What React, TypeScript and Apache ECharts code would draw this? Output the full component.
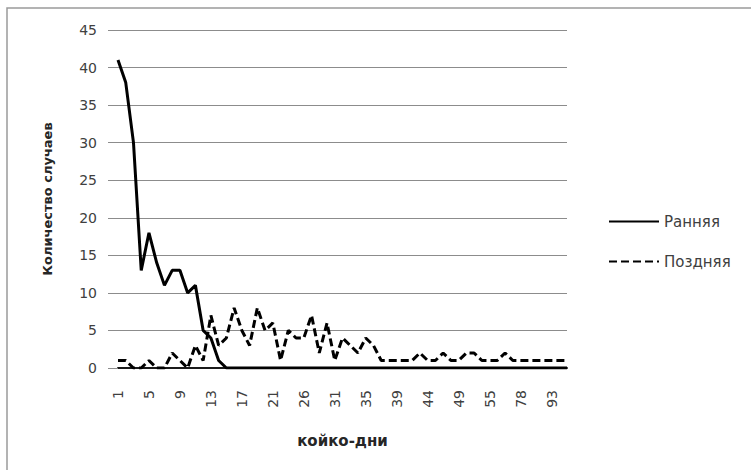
import React, { useEffect, useRef } from "react";
import * as echarts from "echarts";

const days = [
  "1", "2", "3", "4", "5", "6", "7", "8", "9", "10", "11", "12", "13", "14", "15", "16", "17", "18", "19", "20", "21",
  "22", "23", "24", "26", "27", "28", "29", "31", "32", "33", "34", "35", "36", "37", "38", "39", "40", "41", "42",
  "44", "45", "46", "47", "49", "50", "51", "53", "55", "57", "60", "65", "78", "80", "85", "90", "93", "95", "100",
];

const early = [
  41, 38, 30, 13, 18, 14, 11, 13, 13, 10, 11, 5, 4, 1, 0,
  0, 0, 0, 0, 0, 0, 0, 0, 0, 0, 0, 0, 0, 0, 0,
  0, 0, 0, 0, 0, 0, 0, 0, 0, 0, 0, 0, 0, 0, 0,
  0, 0, 0, 0, 0, 0, 0, 0, 0, 0, 0, 0, 0, 0,
];

const late = [
  1, 1, 0, 0, 1, 0, 0, 2, 1, 0, 3, 1, 7, 3, 4, 8, 5, 3, 8, 5, 6, 1, 5, 4, 4, 7, 2, 6, 1, 4,
  3, 2, 4, 3, 1, 1, 1, 1, 1, 2, 1, 1, 2, 1, 1, 2, 2, 1, 1, 1, 2, 1, 1, 1, 1, 1, 1, 1, 1,
];

const seriesNames = ["Ранняя", "Поздняя"];
const xTitle = "койко-дни";
const yTitle = "Количество случаев";

export default function App() {
  const ref = useRef<HTMLDivElement>(null);
  useEffect(() => {
    if (!ref.current) return;
    const chart = echarts.init(ref.current, undefined, { renderer: "svg" });
    const font = "DejaVu Sans";
    chart.setOption({
      animation: false,
      backgroundColor: "#ffffff",
      textStyle: { fontFamily: font },
      graphic: [
        {
          type: "rect",
          shape: { x: 7, y: 8, width: 820, height: 520 },
          style: { fill: "none", stroke: "#9a9a9a", lineWidth: 1.5 },
          silent: true,
        },
      ],
      grid: {
        left: 118,
        right: 184,
        top: 30,
        bottom: 102,
        containLabel: false,
        outerBoundsMode: "none",
      },
      legend: {
        orient: "vertical",
        left: 603,
        top: 209,
        itemWidth: 50,
        itemHeight: 14,
        itemGap: 25,
        itemStyle: { opacity: 0 },
        textStyle: { fontFamily: font, fontSize: 15, color: "#404040" },
        data: seriesNames,
      },
      xAxis: {
        type: "category",
        data: days,
        boundaryGap: false,
        axisLine: { lineStyle: { color: "#1a1a1a", width: 2 } },
        axisTick: { show: false },
        splitLine: { show: false },
        axisLabel: {
          interval: 3,
          rotate: 90,
          margin: 22,
          fontSize: 14,
          color: "#404040",
          fontFamily: font,
        },
        name: xTitle,
        nameLocation: "middle",
        nameGap: 65,
        nameTextStyle: { fontFamily: font, fontWeight: "bold", fontSize: 15, color: "#262626" },
      },
      yAxis: {
        type: "value",
        min: 0,
        max: 45,
        interval: 5,
        axisLine: { show: false },
        axisTick: { show: true, length: 10, lineStyle: { color: "#8c8c8c" } },
        splitLine: { lineStyle: { color: "#8c8c8c", width: 1 } },
        axisLabel: { margin: 21, fontSize: 14, color: "#404040", fontFamily: font },
        name: yTitle,
        nameLocation: "middle",
        nameRotate: 90,
        nameGap: 64,
        nameTextStyle: { fontFamily: font, fontWeight: "bold", fontSize: 13, color: "#262626" },
      },
      series: [
        {
          name: seriesNames[0],
          type: "line",
          data: early,
          symbol: "none",
          lineStyle: { color: "#000000", width: 3, type: "solid" },
          itemStyle: { color: "#000000" },
          z: 3,
        },
        {
          name: seriesNames[1],
          type: "line",
          data: late,
          symbol: "none",
          lineStyle: { color: "#000000", width: 3, type: [8, 4] },
          itemStyle: { color: "#000000" },
          z: 2,
        },
      ],
    });
    return () => chart.dispose();
  }, []);
  return (
    <div
      ref={ref}
      style={{ position: "fixed", left: 0, top: 0, width: 751, height: 470 }}
    />
  );
}
